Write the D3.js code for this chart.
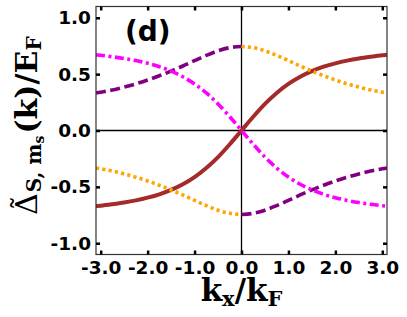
<!DOCTYPE html>
<html>
<head>
<script src="https://d3js.org/d3.v7.min.js"></script>
<style>
  body { margin: 0; background: #fff; }
  text { fill: #000; }
</style>
</head>
<body>
<script>
// x grid for the continuous curves (k_x / k_F)
var kx = [-3.1,-3,-2.75,-2.5,-2.25,-2,-1.75,-1.5,-1.25,-1,-0.75,-0.5,-0.25,0,
          0.25,0.5,0.75,1,1.25,1.5,1.75,2,2.25,2.5,2.75,3,3.1];
// solid brown
var brownVals = [-0.671,-0.667,-0.654,-0.639,-0.620,-0.596,-0.566,-0.527,-0.477,-0.413,-0.333,-0.236,-0.122,0,
                 0.122,0.236,0.333,0.413,0.477,0.527,0.566,0.596,0.620,0.639,0.654,0.667,0.671];
// dash-dot magenta
var magentaVals = [0.671,0.667,0.654,0.639,0.620,0.596,0.566,0.527,0.477,0.413,0.333,0.236,0.122,0,
                   -0.122,-0.236,-0.333,-0.413,-0.477,-0.527,-0.566,-0.596,-0.620,-0.639,-0.654,-0.667,-0.671];
// the two branches that jump at k=0
var kNeg = [-3.1,-3,-2.75,-2.5,-2.25,-2,-1.75,-1.5,-1.25,-1,-0.75,-0.5,-0.25,0];
var kPos = [0,0.25,0.5,0.75,1,1.25,1.5,1.75,2,2.25,2.5,2.75,3,3.1];
var purpleNeg = [0.332,0.340,0.360,0.385,0.414,0.448,0.486,0.527,0.572,0.620,0.666,0.707,0.735,0.745];
var purplePos = [-0.745,-0.735,-0.707,-0.666,-0.620,-0.572,-0.527,-0.486,-0.448,-0.414,-0.385,-0.360,-0.340,-0.332];
var orangeNeg = [-0.332,-0.340,-0.360,-0.385,-0.414,-0.448,-0.486,-0.527,-0.572,-0.620,-0.666,-0.707,-0.735,-0.745];
var orangePos = [0.745,0.735,0.707,0.666,0.620,0.572,0.527,0.486,0.448,0.414,0.385,0.360,0.340,0.332];

var xTicks = [-3,-2,-1,0,1,2,3];
var yTicks = [-1,-0.5,0,0.5,1];

var W = 407, H = 317;
var L = 96, R = 387, T = 6.5, B = 254.5;

var svg = d3.select("body").append("svg").attr("width", W).attr("height", H);

var x = d3.scaleLinear().domain([-3.1, 3.1]).range([L, R]);
var y = d3.scaleLinear().domain([-1.1, 1.1]).range([B, T]);

var fmt = function(d){ return d.toFixed(1); };

svg.append("clipPath").attr("id","clip")
  .append("rect").attr("x",L).attr("y",T).attr("width",R-L).attr("height",B-T);

// zero lines
svg.append("line").attr("x1",L).attr("x2",R).attr("y1",y(0)).attr("y2",y(0))
  .attr("stroke","#000").attr("stroke-width",1.3);
svg.append("line").attr("x1",x(0)).attr("x2",x(0)).attr("y1",T).attr("y2",B)
  .attr("stroke","#000").attr("stroke-width",1.3);

var line = d3.line().x(function(d){ return x(d[0]); }).y(function(d){ return y(d[1]); })
  .curve(d3.curveMonotoneX);

var series = [
  {pts: d3.zip(kx, brownVals),   color:"#a52a2a", w:4,   dash:null},
  {pts: d3.zip(kNeg, purpleNeg), color:"#800080", w:3.6, dash:"10,4.5"},
  {pts: d3.zip(kPos, purplePos), color:"#800080", w:3.6, dash:"10,4.5"},
  {pts: d3.zip(kx, magentaVals), color:"#ff00ff", w:3.6, dash:"9,3.5,3,3.5"},
  {pts: d3.zip(kNeg, orangeNeg), color:"#ffa500", w:3.6, dash:"3.2,3.2"},
  {pts: d3.zip(kPos, orangePos), color:"#ffa500", w:3.6, dash:"3.2,3.2"}
];

svg.append("g").attr("clip-path","url(#clip)").selectAll("path").data(series).enter()
  .append("path")
  .attr("d", function(d){ return line(d.pts); })
  .attr("fill","none")
  .attr("stroke", function(d){ return d.color; })
  .attr("stroke-width", function(d){ return d.w; })
  .attr("stroke-dasharray", function(d){ return d.dash; });

// frame
svg.append("rect").attr("x",L).attr("y",T).attr("width",R-L).attr("height",B-T)
  .attr("fill","none").attr("stroke","#333").attr("stroke-width",1.2);

function styleAxis(g){
  g.select(".domain").remove();
  g.selectAll(".tick line").attr("stroke","#000").attr("stroke-width",2.5);
  g.selectAll("text").attr("font-family","DejaVu Sans").attr("font-weight","bold")
    .attr("font-size","18.5px").attr("fill","#000");
}

svg.append("g").attr("transform","translate(0,"+B+")")
  .call(d3.axisBottom(x).tickValues(xTicks).tickFormat(fmt).tickSizeInner(-4).tickSizeOuter(0).tickPadding(6))
  .call(styleAxis);
svg.append("g").attr("transform","translate(0,"+T+")")
  .call(d3.axisTop(x).tickValues(xTicks).tickFormat("").tickSizeInner(-4).tickSizeOuter(0))
  .call(styleAxis);
svg.append("g").attr("transform","translate("+L+",0)")
  .call(d3.axisLeft(y).tickValues(yTicks).tickFormat(fmt).tickSizeInner(-4).tickSizeOuter(0).tickPadding(5))
  .call(styleAxis);
svg.append("g").attr("transform","translate("+R+",0)")
  .call(d3.axisRight(y).tickValues(yTicks).tickFormat("").tickSizeInner(-4).tickSizeOuter(0))
  .call(styleAxis);

// panel tag
svg.append("text").attr("x",125).attr("y",41)
  .attr("font-family","DejaVu Sans").attr("font-weight","bold").attr("font-size","28px")
  .text("(d)");

// x label
var xl = svg.append("text").attr("x",(L+R)/2).attr("y",301).attr("text-anchor","middle")
  .attr("font-family","DejaVu Serif").attr("font-weight","bold").attr("font-size","31px");
xl.append("tspan").text("k");
xl.append("tspan").attr("font-size","21px").attr("dy",5).text("x");
xl.append("tspan").attr("dy",-5).text("/k");
xl.append("tspan").attr("font-size","21px").attr("dy",5).text("F");

// y label, rotated; text runs upward from screen y = 215
var yg = svg.append("g").attr("transform","translate(37,0) rotate(-90)");
var yl = yg.append("text").attr("x",-215).attr("y",0)
  .attr("font-family","DejaVu Serif").attr("font-weight","bold").attr("font-size","30px");
yl.append("tspan").attr("font-weight","normal").text("\u0394");
yl.append("tspan").attr("font-size","20px").attr("dx",1).attr("dy",4).text("S, m");
yl.append("tspan").attr("font-size","14px").attr("dy",3).text("s");
yl.append("tspan").attr("dx",2).attr("dy",-7).text("(k)/E");
yl.append("tspan").attr("font-size","20px").attr("dy",4).text("F");
// tilde over the Delta
yg.append("text").attr("x",-203).attr("y",-4).attr("text-anchor","middle")
  .attr("font-family","DejaVu Serif").attr("font-size","30px").text("\u02DC");
</script>
</body>
</html>
